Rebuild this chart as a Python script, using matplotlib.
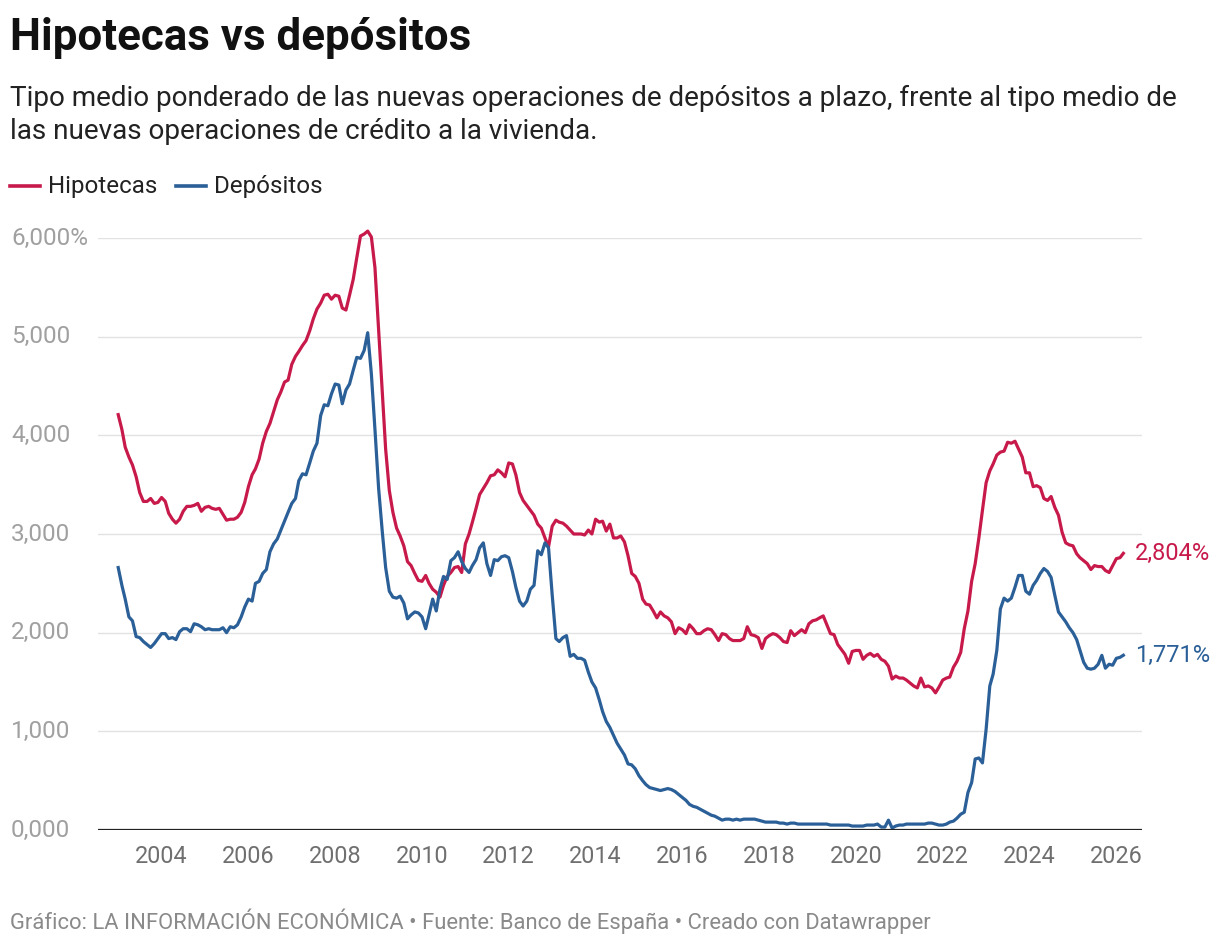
import matplotlib
matplotlib.use("Agg")
import matplotlib.pyplot as plt
import matplotlib.transforms as mtransforms
import pandas as pd

plt.rcParams["font.family"] = ["Roboto", "DejaVu Sans"]

# Datos mensuales, enero 2003 - marzo 2026 (tipos en %)
hipotecas = [
    4.21, 4.06, 3.88, 3.78, 3.70, 3.58, 3.42, 3.33, 3.33, 3.36, 3.31, 3.32,  # 2003
    3.37, 3.33, 3.21, 3.15, 3.11, 3.15, 3.23, 3.28, 3.28, 3.29, 3.31, 3.23,  # 2004
    3.27, 3.28, 3.26, 3.25, 3.26, 3.20, 3.14, 3.15, 3.15, 3.17, 3.22, 3.32,  # 2005
    3.48, 3.60, 3.66, 3.76, 3.92, 4.04, 4.12, 4.24, 4.36, 4.44, 4.54, 4.56,  # 2006
    4.72, 4.80, 4.85, 4.91, 4.96, 5.06, 5.18, 5.28, 5.34, 5.42, 5.43, 5.38,  # 2007
    5.42, 5.41, 5.29, 5.27, 5.42, 5.58, 5.80, 6.02, 6.04, 6.07, 6.01, 5.70,  # 2008
    5.06, 4.42, 3.86, 3.44, 3.22, 3.06, 2.98, 2.88, 2.72, 2.68, 2.60, 2.53,  # 2009
    2.52, 2.58, 2.50, 2.44, 2.41, 2.36, 2.48, 2.57, 2.61, 2.66, 2.67, 2.61,  # 2010
    2.90, 3.00, 3.12, 3.26, 3.40, 3.46, 3.52, 3.59, 3.60, 3.65, 3.62, 3.58,  # 2011
    3.72, 3.71, 3.60, 3.42, 3.34, 3.29, 3.24, 3.19, 3.10, 3.06, 2.96, 2.87,  # 2012
    3.08, 3.14, 3.12, 3.11, 3.08, 3.04, 3.00, 3.00, 3.00, 2.99, 3.04, 3.00,  # 2013
    3.15, 3.12, 3.13, 3.03, 3.10, 2.96, 2.96, 2.98, 2.92, 2.78, 2.60, 2.57,  # 2014
    2.50, 2.34, 2.29, 2.28, 2.22, 2.15, 2.21, 2.17, 2.15, 2.11, 1.99, 2.05,  # 2015
    2.03, 1.99, 2.08, 2.04, 1.99, 1.99, 2.02, 2.04, 2.03, 1.98, 1.92, 1.99,  # 2016
    1.98, 1.94, 1.92, 1.92, 1.92, 1.94, 2.06, 1.98, 1.97, 1.95, 1.84, 1.94,  # 2017
    1.97, 1.99, 1.98, 1.95, 1.91, 1.90, 2.02, 1.97, 2.00, 2.03, 2.00, 2.09,  # 2018
    2.12, 2.13, 2.15, 2.17, 2.08, 1.99, 1.98, 1.88, 1.83, 1.78, 1.69, 1.81,  # 2019
    1.82, 1.82, 1.73, 1.77, 1.79, 1.76, 1.78, 1.73, 1.71, 1.66, 1.53, 1.56,  # 2020
    1.54, 1.54, 1.52, 1.49, 1.46, 1.44, 1.54, 1.45, 1.46, 1.44, 1.39, 1.45,  # 2021
    1.52, 1.54, 1.55, 1.65, 1.71, 1.80, 2.04, 2.22, 2.52, 2.70, 2.96, 3.24,  # 2022
    3.52, 3.64, 3.71, 3.80, 3.83, 3.84, 3.93, 3.92, 3.94, 3.86, 3.78, 3.62,  # 2023
    3.62, 3.48, 3.49, 3.47, 3.36, 3.34, 3.38, 3.27, 3.19, 3.02, 2.91, 2.89,  # 2024
    2.88, 2.80, 2.76, 2.73, 2.70, 2.64, 2.68, 2.67, 2.67, 2.63, 2.61, 2.68,  # 2025
    2.75, 2.76, 2.804,                                                       # 2026
]

depositos = [
    2.66, 2.48, 2.34, 2.16, 2.12, 1.96, 1.95, 1.91, 1.88, 1.85, 1.89, 1.94,  # 2003
    1.99, 1.99, 1.94, 1.95, 1.93, 2.01, 2.04, 2.04, 2.01, 2.09, 2.08, 2.06,  # 2004
    2.03, 2.04, 2.03, 2.03, 2.03, 2.05, 2.00, 2.06, 2.05, 2.08, 2.16, 2.26,  # 2005
    2.34, 2.32, 2.50, 2.52, 2.60, 2.64, 2.82, 2.90, 2.95, 3.04, 3.13, 3.22,  # 2006
    3.31, 3.36, 3.54, 3.61, 3.60, 3.72, 3.84, 3.92, 4.20, 4.31, 4.30, 4.42,  # 2007
    4.52, 4.51, 4.32, 4.46, 4.52, 4.66, 4.79, 4.78, 4.86, 5.04, 4.62, 4.06,  # 2008
    3.46, 3.02, 2.66, 2.42, 2.36, 2.35, 2.37, 2.30, 2.14, 2.18, 2.21, 2.20,  # 2009
    2.16, 2.04, 2.18, 2.34, 2.22, 2.44, 2.57, 2.54, 2.73, 2.76, 2.82, 2.72,  # 2010
    2.65, 2.61, 2.68, 2.74, 2.86, 2.91, 2.70, 2.58, 2.74, 2.73, 2.77, 2.78,  # 2011
    2.76, 2.62, 2.46, 2.32, 2.27, 2.32, 2.44, 2.48, 2.83, 2.79, 2.91, 2.86,  # 2012
    2.38, 1.94, 1.91, 1.95, 1.97, 1.76, 1.78, 1.74, 1.74, 1.72, 1.60, 1.50,  # 2013
    1.44, 1.32, 1.20, 1.10, 1.04, 0.96, 0.88, 0.82, 0.76, 0.67, 0.66, 0.62,  # 2014
    0.55, 0.50, 0.46, 0.43, 0.42, 0.41, 0.40, 0.41, 0.42, 0.41, 0.39, 0.36,  # 2015
    0.33, 0.30, 0.26, 0.24, 0.23, 0.21, 0.19, 0.17, 0.15, 0.14, 0.12, 0.10,  # 2016
    0.11, 0.11, 0.10, 0.11, 0.10, 0.11, 0.11, 0.11, 0.11, 0.10, 0.09, 0.08,  # 2017
    0.08, 0.08, 0.08, 0.07, 0.07, 0.06, 0.07, 0.07, 0.06, 0.06, 0.06, 0.06,  # 2018
    0.06, 0.06, 0.06, 0.06, 0.06, 0.05, 0.05, 0.05, 0.05, 0.05, 0.05, 0.04,  # 2019
    0.04, 0.04, 0.04, 0.05, 0.05, 0.05, 0.06, 0.03, 0.03, 0.10, 0.02, 0.04,  # 2020
    0.05, 0.05, 0.06, 0.06, 0.06, 0.06, 0.06, 0.06, 0.07, 0.07, 0.06, 0.05,  # 2021
    0.05, 0.06, 0.08, 0.09, 0.12, 0.16, 0.18, 0.38, 0.48, 0.72, 0.73, 0.68,  # 2022
    1.02, 1.46, 1.58, 1.82, 2.24, 2.35, 2.32, 2.35, 2.46, 2.58, 2.58, 2.42,  # 2023
    2.39, 2.48, 2.53, 2.60, 2.65, 2.62, 2.56, 2.38, 2.21, 2.16, 2.11, 2.05,  # 2024
    2.00, 1.93, 1.82, 1.70, 1.64, 1.63, 1.64, 1.68, 1.77, 1.64, 1.68, 1.67,  # 2025
    1.74, 1.75, 1.771,                                                       # 2026
]

fechas = pd.date_range("2003-01-01", periods=len(hipotecas), freq="MS")
y_ticks = [0, 1, 2, 3, 4, 5, 6]
y_labels = ["0,000", "1,000", "2,000", "3,000", "4,000", "5,000", "6,000%"]
x_years = list(range(2004, 2027, 2))

ROJO = "#c71a4b"
AZUL = "#2a5f98"

W, H = 1220, 946
fig = plt.figure(figsize=(W / 100, H / 100), dpi=100)
ax = fig.add_axes([98 / W, (H - 830) / H, (1142 - 98) / W, (830 - 238) / H])

ax.plot(fechas, hipotecas, color=ROJO, lw=2.3, solid_joinstyle="round", zorder=3, clip_on=False)
ax.plot(fechas, depositos, color=AZUL, lw=2.3, solid_joinstyle="round", zorder=3, clip_on=False)

ax.set_ylim(0, 6)
ax.set_xlim(pd.Timestamp("2002-07-15"), pd.Timestamp("2026-08-05"))

# rejilla horizontal
for v in y_ticks[1:]:
    ax.axhline(v, color="#e2e2e2", lw=1, zorder=1)
ax.axhline(0, color="#222222", lw=1.6, zorder=4)

for s in ax.spines.values():
    s.set_visible(False)
ax.set_yticks([])
ax.set_xticks([pd.Timestamp(f"{y}-01-01") for y in x_years])
ax.set_xticklabels([str(y) for y in x_years], fontsize=16.8, color="#6f6f6f")
ax.tick_params(axis="x", length=0, pad=11)

# etiquetas eje Y a la izquierda
trans = mtransforms.blended_transform_factory(fig.transFigure, ax.transData)
for v, lab in zip(y_ticks, y_labels):
    ax.text(11 / W, v, lab, transform=trans, ha="left", va="center",
            fontsize=17.5, color="#a0a0a0")

# valores finales
ax.text(fechas[-1] + pd.Timedelta(days=95), hipotecas[-1], "2,804%", color=ROJO,
        fontsize=17, va="center", ha="left")
ax.text(fechas[-1] + pd.Timedelta(days=95), depositos[-1], "1,771%", color=AZUL,
        fontsize=17, va="center", ha="left")

# textos
fig.text(10 / W, 1 - 50 / H, "Hipotecas vs depósitos", fontsize=31.6, weight="bold",
         color="#111111", va="baseline")
fig.text(10 / W, 1 - 106 / H,
         "Tipo medio ponderado de las nuevas operaciones de depósitos a plazo, frente al tipo medio de",
         fontsize=20.1, color="#222222", va="baseline")
fig.text(10 / W, 1 - 139 / H, "las nuevas operaciones de crédito a la vivienda.",
         fontsize=20.1, color="#222222", va="baseline")

# leyenda
fig.add_artist(plt.Line2D([10 / W, 40 / W], [1 - 186 / H] * 2, color=ROJO, lw=2.6))
fig.text(48 / W, 1 - 193 / H, "Hipotecas", fontsize=17.4, color="#222222", va="baseline")
fig.add_artist(plt.Line2D([176 / W, 206 / W], [1 - 186 / H] * 2, color=AZUL, lw=2.6))
fig.text(214 / W, 1 - 193 / H, "Depósitos", fontsize=17.4, color="#222222", va="baseline")

fig.text(10 / W, 1 - 929 / H,
         "Gráfico: LA INFORMACIÓN ECONÓMICA • Fuente: Banco de España • Creado con Datawrapper",
         fontsize=15.8, color="#8a8a8a", va="baseline")

fig.savefig("out.png", dpi=100, facecolor="white")
